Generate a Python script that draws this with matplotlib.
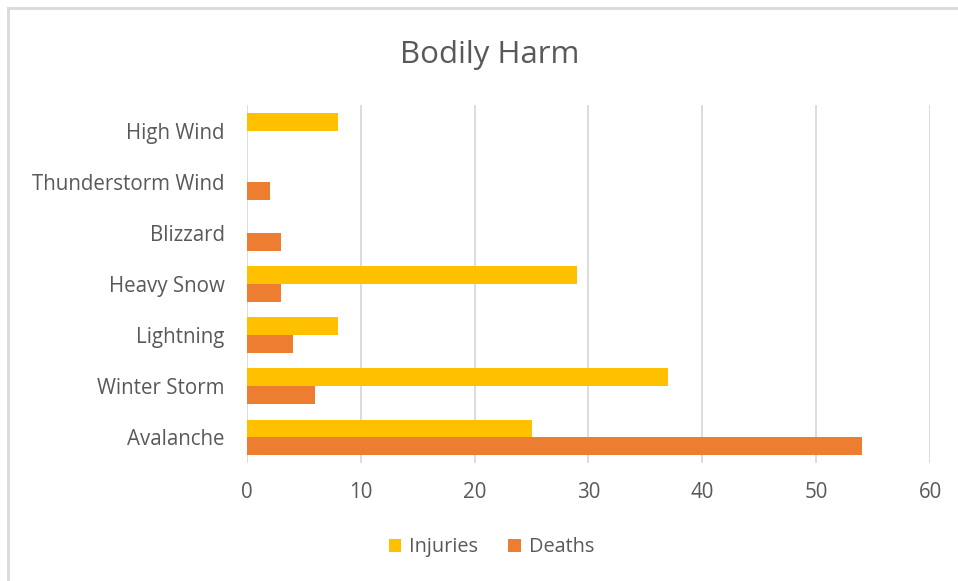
import matplotlib.pyplot as plt
import numpy as np
from matplotlib.lines import Line2D

# datos (de abajo hacia arriba)
categorias = ['Avalanche', 'Winter Storm', 'Lightning', 'Heavy Snow',
              'Blizzard', 'Thunderstorm Wind', 'High Wind']
injuries = [25, 37, 8, 29, 0, 0, 8]
deaths = [54, 6, 4, 3, 3, 2, 0]
ticks_x = [0, 10, 20, 30, 40, 50, 60]

plt.rcParams['font.family'] = ['Open Sans', 'DejaVu Sans']
gris = '#595959'

fig = plt.figure(figsize=(9.58, 5.81), dpi=100)
ax = fig.add_axes([0.2578, 0.2031, 0.7130, 0.6162])

y = np.arange(len(categorias))
h = 0.35
ax.barh(y + h/2, injuries, height=h, color='#FFC000', label='Injuries', zorder=3)
ax.barh(y - h/2, deaths, height=h, color='#ED7D31', label='Deaths', zorder=3)

ax.set_xlim(0, 60)
ax.set_ylim(-0.5, len(categorias) - 0.5)
ax.set_xticks(ticks_x)
ax.set_yticks(y)
ax.set_yticklabels(categorias)
ax.grid(axis='x', color='#d9d9d9', linewidth=1.3, zorder=0)
for s in ax.spines.values():
    s.set_visible(False)
ax.tick_params(length=0, labelsize=14.8, labelcolor=gris)
ax.tick_params(axis='x', pad=14)
ax.tick_params(axis='y', pad=16)

fig.text(0.511, 0.906, 'Bodily Harm', ha='center', va='center', fontsize=22.5, color=gris)

fig.legend(loc='center', bbox_to_anchor=(0.513, 0.058), ncol=2, frameon=False,
           fontsize=14.3, labelcolor=gris, handlelength=0.65, handleheight=0.65,
           columnspacing=1.5, handletextpad=0.4)

# borde del grafico
fig.add_artist(Line2D([8/958, 1], [1 - 8/581, 1 - 8/581], color='#d9d9d9', lw=2))
fig.add_artist(Line2D([8/958, 8/958], [0, 1 - 8/581], color='#d9d9d9', lw=2))

plt.savefig('out.png', dpi=100)
